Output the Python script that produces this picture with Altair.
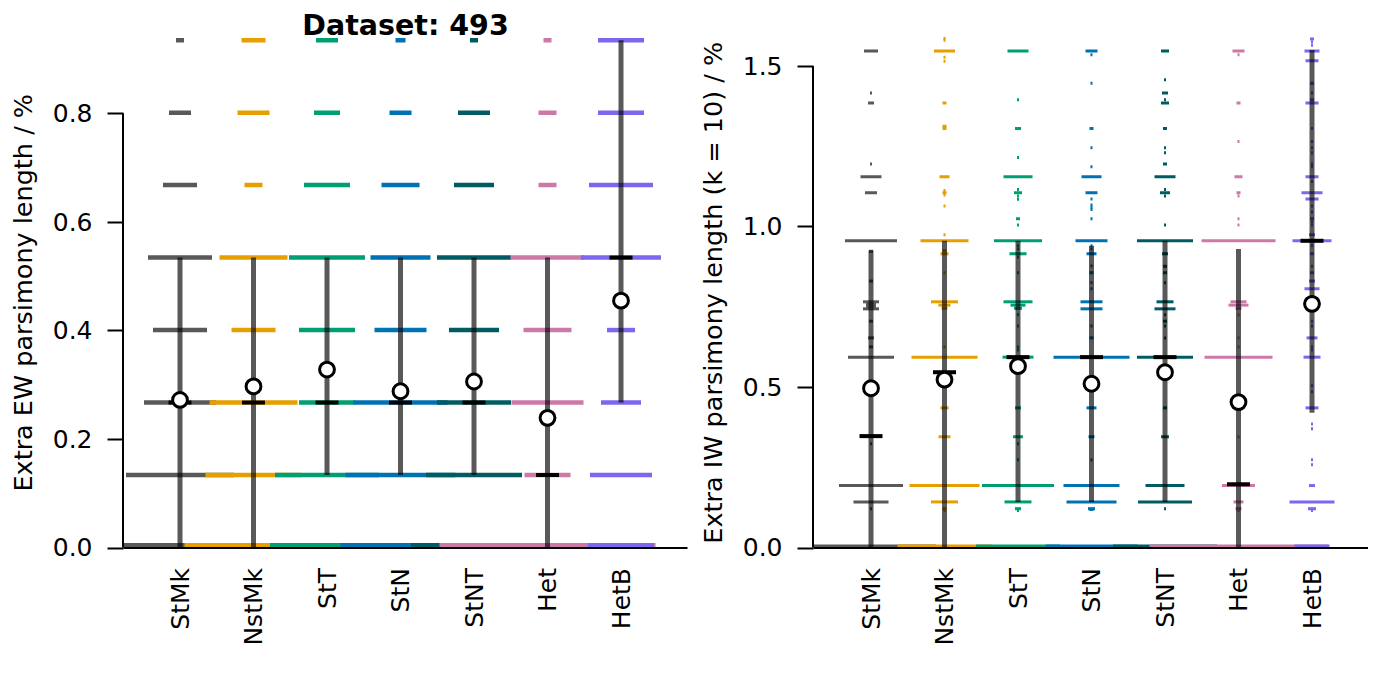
import altair as alt
import pandas as pd

CATEGORIES = ["StMk", "NstMk", "StT", "StN", "StNT", "Het", "HetB"]
COLORS = ["#595959", "#E69F00", "#009E73", "#0072B2", "#005C62", "#CC79A7", "#7B68EE"]

# ---- equal weights panel: distinct values and their counts per partitioning scheme
EW_VALUES = [0.0, 0.1336, 0.2672, 0.4008, 0.5344, 0.668, 0.8016, 0.9352]
EW_COUNTS = {
    "StMk":  [65, 54, 36, 27, 32, 17, 11, 4],
    "NstMk": [69, 48, 44, 22, 34, 9, 16, 12],
    "StT":   [57, 52, 28, 28, 38, 23, 13, 11],
    "StN":   [60, 55, 47, 26, 30, 19, 11, 5],
    "StNT":  [63, 48, 37, 25, 37, 20, 16, 4],
    "Het":   [108, 23, 36, 24, 37, 9, 9, 4],
    "HetB":  [33, 31, 20, 14, 40, 32, 23, 23],
}
EW_LOW = [0.0, 0.0, 0.1336, 0.1336, 0.1336, 0.0, 0.2672]
EW_HIGH = [0.5344, 0.5344, 0.5344, 0.5344, 0.5344, 0.5344, 0.9352]
EW_MEDIAN = [0.2672, 0.2672, 0.2672, 0.2672, 0.2672, 0.1336, 0.5344]
EW_MEAN = [0.272, 0.297, 0.328, 0.288, 0.306, 0.239, 0.455]

# ---- implied weights (k = 10) panel: (value, count) pairs
IW_STMK = [(0.0, 65), (0.121, 1), (0.142, 17.5), (0.193, 32), (0.323, 1), (0.593, 23),
           (0.625, 2), (0.653, 3), (0.705, 2), (0.7435, 8), (0.75, 5), (0.757, 5),
           (0.7654, 8), (0.83, 2), (0.923, 2), (0.9555, 26), (1.105, 6), (1.155, 10.5),
           (1.195, 1), (1.385, 3), (1.416, 1), (1.547, 7)]
IW_NSTMK = [(0.0, 47), (0.115, 1), (0.121, 2), (0.142, 13.5), (0.193, 35), (0.345, 6),
            (0.435, 4), (0.593, 33), (0.625, 1), (0.745, 3), (0.755, 6), (0.7654, 13.5),
            (0.856, 1), (0.915, 4), (0.925, 2), (0.9555, 24), (0.974, 1), (1.064, 1),
            (1.098, 1), (1.105, 2), (1.112, 1), (1.155, 5), (1.305, 2), (1.312, 2),
            (1.385, 2), (1.515, 1), (1.527, 1), (1.547, 10.5), (1.58, 1), (1.586, 1)]
IW_STT = [(0.0, 42), (0.115, 1), (0.121, 3), (0.142, 13.5), (0.193, 36), (0.273, 1),
          (0.323, 1), (0.345, 5), (0.435, 3), (0.593, 15.5), (0.615, 1), (0.625, 1),
          (0.69, 1), (0.725, 1), (0.745, 4), (0.755, 7.5), (0.7654, 14.5), (0.856, 1),
          (0.905, 1), (0.915, 8.5), (0.93, 1), (0.94, 1), (0.9555, 24), (1.005, 1),
          (1.024, 2), (1.085, 1), (1.095, 1), (1.105, 4), (1.115, 1), (1.155, 14.5),
          (1.215, 1), (1.305, 3), (1.395, 1), (1.547, 10.5)]
IW_STN = [(0.0, 46), (0.118, 2), (0.121, 3.5), (0.142, 25), (0.193, 28), (0.273, 1),
          (0.345, 3), (0.435, 5), (0.593, 38), (0.653, 2), (0.69, 1), (0.7435, 11),
          (0.7654, 11), (0.806, 1), (0.825, 1), (0.856, 2), (0.877, 1), (0.915, 5),
          (0.93, 1), (0.94, 1), (0.9555, 16), (1.024, 1), (1.053, 1), (1.06, 1),
          (1.067, 1), (1.086, 1), (1.105, 6), (1.155, 10), (1.186, 1), (1.245, 1),
          (1.305, 2), (1.446, 1), (1.535, 1), (1.547, 6)]
IW_STNT = [(0.0, 52), (0.121, 1), (0.142, 27), (0.193, 19.5), (0.345, 4), (0.435, 2),
           (0.593, 28), (0.653, 1), (0.69, 1), (0.705, 2), (0.725, 1), (0.7435, 10.5),
           (0.7654, 8.5), (0.825, 1), (0.856, 2), (0.876, 2), (0.915, 3), (0.9555, 28),
           (1.005, 1), (1.095, 1), (1.105, 5), (1.115, 1), (1.155, 10.5), (1.195, 2),
           (1.23, 1), (1.245, 1), (1.305, 2), (1.385, 4), (1.395, 1), (1.416, 3),
           (1.457, 1), (1.547, 4)]
IW_HET = [(0.0, 89), (0.115, 1), (0.121, 3), (0.142, 5), (0.193, 16.5), (0.345, 1),
          (0.593, 34), (0.625, 1), (0.653, 1), (0.725, 1), (0.745, 3), (0.755, 10),
          (0.7654, 8), (0.9555, 37), (1.005, 1), (1.024, 1), (1.095, 1), (1.105, 2),
          (1.155, 4), (1.265, 1), (1.385, 2), (1.535, 1), (1.547, 6)]
IW_HETB = [(0.0, 17.5), (0.115, 1), (0.121, 4), (0.142, 22.5), (0.193, 3), (0.258, 1),
           (0.273, 1), (0.37, 1), (0.385, 1), (0.435, 6.5), (0.485, 1), (0.504, 1),
           (0.593, 8.5), (0.615, 1), (0.625, 1), (0.653, 5.5), (0.69, 1), (0.705, 1),
           (0.806, 7.5), (0.83, 3), (0.856, 2), (0.876, 1), (0.915, 2), (0.94, 1),
           (0.9555, 19.5), (0.974, 3), (1.005, 1), (1.014, 1), (1.024, 2), (1.045, 1),
           (1.064, 1), (1.086, 6.5), (1.105, 10.5), (1.14, 1), (1.155, 6.5), (1.186, 1),
           (1.195, 1), (1.23, 1), (1.245, 1), (1.265, 1), (1.305, 1), (1.385, 6.5),
           (1.395, 2), (1.416, 1), (1.446, 2), (1.516, 6.5), (1.547, 7.5), (1.565, 1),
           (1.575, 1), (1.584, 2)]
IW_LOW = [0.0, 0.0, 0.142, 0.142, 0.142, 0.0, 0.42]
IW_HIGH = [0.925, 0.9555, 0.9555, 0.94, 0.9555, 0.93, 1.55]
IW_MEDIAN = [0.347, 0.546, 0.593, 0.593, 0.593, 0.197, 0.9555]
IW_MEAN = [0.496, 0.523, 0.565, 0.51, 0.546, 0.453, 0.759]

STEP = 73.5          # px between category centres
HALF_PER_COUNT = 1.0 / STEP   # one count = 1 px of half-width
MED_HALF = 11.5 / STEP
FONT = "DejaVu Sans"
PLOT_H = 510.5


def dash_table(groups):
    rows = []
    for i, pairs in enumerate(groups):
        for v, n in pairs:
            rows.append({"cat": CATEGORIES[i], "idx": i, "value": v,
                         "x0": i - n * HALF_PER_COUNT, "x1": i + n * HALF_PER_COUNT})
    return pd.DataFrame(rows)


def summary_table(low, high, median, mean):
    return pd.DataFrame({
        "cat": CATEGORIES, "idx": list(range(len(CATEGORIES))),
        "low": low, "high": high, "median": median, "mean": mean,
        "m0": [i - MED_HALF for i in range(len(CATEGORIES))],
        "m1": [i + MED_HALF for i in range(len(CATEGORIES))],
    })


def panel(dashes, summary, width, height, px_per_unit, x_left, ticks, ytitle, dash_px):
    xs = alt.Scale(domain=[-x_left / STEP, (width - x_left) / STEP], nice=False, zero=False)
    ys = alt.Scale(domain=[0, height / px_per_unit], nice=False, zero=False)
    label_expr = "[" + ",".join("'%s'" % c for c in CATEGORIES) + "][datum.value]"
    xaxis = alt.Axis(values=list(range(len(CATEGORIES))), labelExpr=label_expr,
                     labelAngle=-90, ticks=False, labelPadding=20, labelFontSize=25,
                     domainWidth=2, domainColor="black", labelColor="black",
                     grid=False, title=None, zindex=1)
    yaxis = alt.Axis(values=ticks, format=".1f", tickSize=16, tickWidth=2,
                     tickColor="black", labelPadding=15, labelFontSize=25,
                     labelColor="black", domain=False, grid=False, title=ytitle,
                     titleFontSize=25.5, titleFontWeight="normal", titlePadding=16,
                     titleColor="black")

    def X(f):
        return alt.X(f, scale=xs, axis=xaxis)

    def Y(f):
        return alt.Y(f, scale=ys, axis=yaxis)

    # rows lying on zero sit just above the x axis instead of being half clipped
    lift = alt.ExprRef(expr="datum.value == 0 ? %s : 0" % (-dash_px / 2.0))
    dash = alt.Chart(dashes).mark_rule(strokeWidth=dash_px, strokeCap="butt", clip=True,
                                       yOffset=lift).encode(
        x=X("x0:Q"), x2="x1:Q", y=Y("value:Q"),
        color=alt.Color("cat:N", scale=alt.Scale(domain=CATEGORIES, range=COLORS), legend=None),
    )
    base = alt.Chart(summary)
    spread = base.mark_rule(color="black", opacity=0.65, strokeWidth=5).encode(
        x=X("idx:Q"), y=Y("low:Q"), y2="high:Q")
    med = base.mark_rule(color="black", strokeWidth=4, strokeCap="butt").encode(
        x=X("m0:Q"), x2="m1:Q", y=Y("median:Q"))
    mean = base.mark_point(shape="circle", filled=True, fill="white", stroke="black",
                           strokeWidth=3, size=220, opacity=1).encode(
        x=X("idx:Q"), y=Y("mean:Q"))
    spine = alt.Chart(pd.DataFrame({"a": [ticks[0]], "b": [ticks[-1]]})).mark_rule(
        color="black", strokeWidth=2).encode(x=alt.value(0), y=Y("a:Q"), y2="b:Q")
    return alt.layer(dash, spread, med, mean, spine).properties(width=width, height=height)


ew_dashes = dash_table([list(zip(EW_VALUES, EW_COUNTS[c])) for c in CATEGORIES])
iw_dashes = dash_table([IW_STMK, IW_NSTMK, IW_STT, IW_STN, IW_STNT, IW_HET, IW_HETB])

left = panel(ew_dashes, summary_table(EW_LOW, EW_HIGH, EW_MEDIAN, EW_MEAN),
             564, PLOT_H, 542.5, 57, [0.0, 0.2, 0.4, 0.6, 0.8],
             "Extra EW parsimony length / %", 4.5)
right = panel(iw_dashes, summary_table(IW_LOW, IW_HIGH, IW_MEDIAN, IW_MEAN),
              555, PLOT_H, 321.0, 58, [0.0, 0.5, 1.0, 1.5],
              "Extra IW parsimony length (k = 10) / %", 3)

chart = alt.hconcat(left, right, spacing=14).properties(
    padding={"left": 3, "top": 3, "right": 0, "bottom": 0},
    title=alt.TitleParams("Dataset: 493", anchor="start", dx=291, offset=-3,
                          fontSize=28.5, fontWeight="bold", color="black"),
).configure(font=FONT).configure_view(stroke=None)

chart.save("out.html", embed_options={"renderer": "svg", "actions": False})
